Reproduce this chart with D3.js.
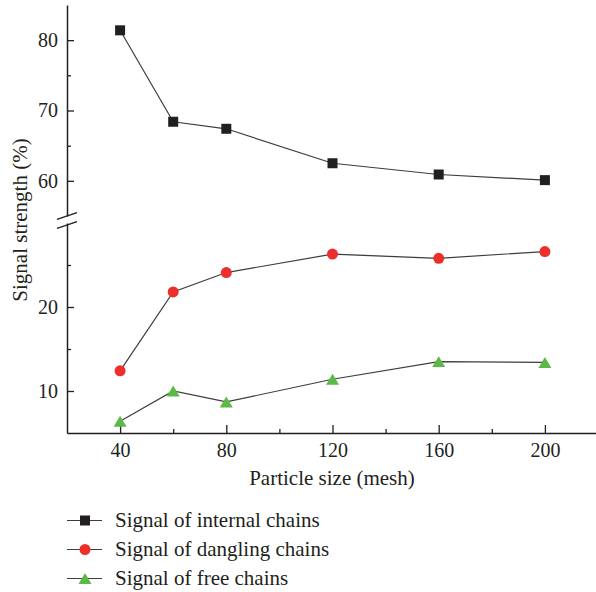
<!DOCTYPE html>
<html>
<head>
<meta charset="utf-8">
<script src="https://cdn.jsdelivr.net/npm/d3@7"></script>
<style>
  html, body { margin: 0; padding: 0; background: #fff; }
  svg text { font-family: "Liberation Serif", "DejaVu Serif", serif; fill: #231f20; }
</style>
</head>
<body>
<svg id="chart" width="596" height="592"></svg>
<script>
'use strict'

// data
const meshSizes = [40, 60, 80, 120, 160, 200]
const internalChains = [81.4, 68.4, 67.4, 62.5, 60.9, 60.1]
const danglingChains = [12.4, 21.8, 24.1, 26.3, 25.8, 26.6]
const freeChains = [6.4, 10.0, 8.7, 11.4, 13.5, 13.4]

const xTicks = [40, 80, 120, 160, 200]
const xMinorTicks = [60, 100, 140, 180]
const yTopTicks = [60, 70, 80]
const yTopMinor = [65, 75]
const yBotTicks = [10, 20]
const yBotMinor = [15, 25]

const seriesNames = ['Signal of internal chains', 'Signal of dangling chains', 'Signal of free chains']

const svg = d3.select('#chart')
const ink = '#231f20'

const x = d3.scaleLinear().domain([20, 220]).range([67, 598])
// broken y axis: two linear pieces
const yTop = d3.scaleLinear().domain([55, 85]).range([216, 5])
const yBot = d3.scaleLinear().domain([5, 30]).range([433, 223])
const y = v => (v >= 45 ? yTop(v) : yBot(v))

function styleAxis (g) {
  g.selectAll('path.domain').attr('stroke', ink).attr('stroke-width', 1.5)
  g.selectAll('.tick line').attr('stroke', ink).attr('stroke-width', 1.3)
  g.selectAll('.tick text').attr('font-size', 20).attr('fill', ink)
    .attr('font-family', '"Liberation Serif", serif')
}

// x axis
const gx = svg.append('g').attr('transform', 'translate(0,433)')
  .call(d3.axisBottom(x).tickValues(xTicks).tickSizeInner(-8).tickSizeOuter(0).tickPadding(10))
styleAxis(gx)
const gxm = svg.append('g').attr('transform', 'translate(0,433)')
  .call(d3.axisBottom(x).tickValues(xMinorTicks).tickSizeInner(-4).tickSizeOuter(0).tickFormat(''))
styleAxis(gxm)
gxm.select('path.domain').remove()

// y axis, upper and lower parts
function yAxis (scale, major, minor) {
  const g = svg.append('g').attr('transform', 'translate(67,0)')
    .call(d3.axisLeft(scale).tickValues(major).tickSizeInner(-7).tickSizeOuter(0).tickPadding(9))
  styleAxis(g)
  const gm = svg.append('g').attr('transform', 'translate(67,0)')
    .call(d3.axisLeft(scale).tickValues(minor).tickSizeInner(-4).tickSizeOuter(0).tickFormat(''))
  styleAxis(gm)
  gm.select('path.domain').remove()
}
yAxis(yTop, yTopTicks, yTopMinor)
yAxis(yBot, yBotTicks, yBotMinor)

// break marks
const breaks = [yTop.range()[0], yBot.range()[1] + 2]
svg.append('g').selectAll('line').data(breaks).join('line')
  .attr('x1', 57).attr('x2', 77)
  .attr('y1', d => d + 3.3).attr('y2', d => d - 3.3)
  .attr('stroke', ink).attr('stroke-width', 1.4)

// axis titles
svg.append('text')
  .attr('x', 332).attr('y', 485)
  .attr('text-anchor', 'middle')
  .attr('font-size', 21)
  .text('Particle size (mesh)')

svg.append('text')
  .attr('transform', 'translate(27,220) rotate(-90)')
  .attr('text-anchor', 'middle')
  .attr('font-size', 21)
  .text('Signal strength (%)')

// markers
const triPath = s => `M0,${-s * 0.42}L${s / 2},${s * 0.42}L${-s / 2},${s * 0.42}Z`
const markers = [
  { values: internalChains, draw: g => g.append('rect').attr('x', -5).attr('y', -5).attr('width', 10).attr('height', 10).attr('fill', ink) },
  { values: danglingChains, draw: g => g.append('circle').attr('r', 5.5).attr('fill', '#ec2f2b') },
  { values: freeChains, draw: g => g.append('path').attr('d', triPath(13)).attr('fill', '#5cb947') }
]

const line = d3.line().x(d => x(d[0])).y(d => y(d[1]))

markers.forEach(function (m) {
  const pts = meshSizes.map((s, i) => [s, m.values[i]])
  svg.append('path')
    .datum(pts)
    .attr('d', line)
    .attr('fill', 'none')
    .attr('stroke', '#3d3d3d')
    .attr('stroke-width', 1.2)
  svg.append('g').selectAll('g').data(pts).join('g')
    .attr('transform', d => `translate(${x(d[0])},${y(d[1])})`)
    .each(function () { m.draw(d3.select(this)) })
})

// legend
const legend = svg.append('g')
markers.forEach(function (m, i) {
  const ly = 520.5 + i * 29
  const row = legend.append('g')
  row.append('line')
    .attr('x1', 67).attr('x2', 102).attr('y1', ly).attr('y2', ly)
    .attr('stroke', '#3d3d3d').attr('stroke-width', 1.2)
  m.draw(row.append('g').attr('transform', `translate(85,${ly})`))
  row.append('text')
    .attr('x', 115).attr('y', ly + 6.5)
    .attr('font-size', 21)
    .text(seriesNames[i])
})
</script>
</body>
</html>
